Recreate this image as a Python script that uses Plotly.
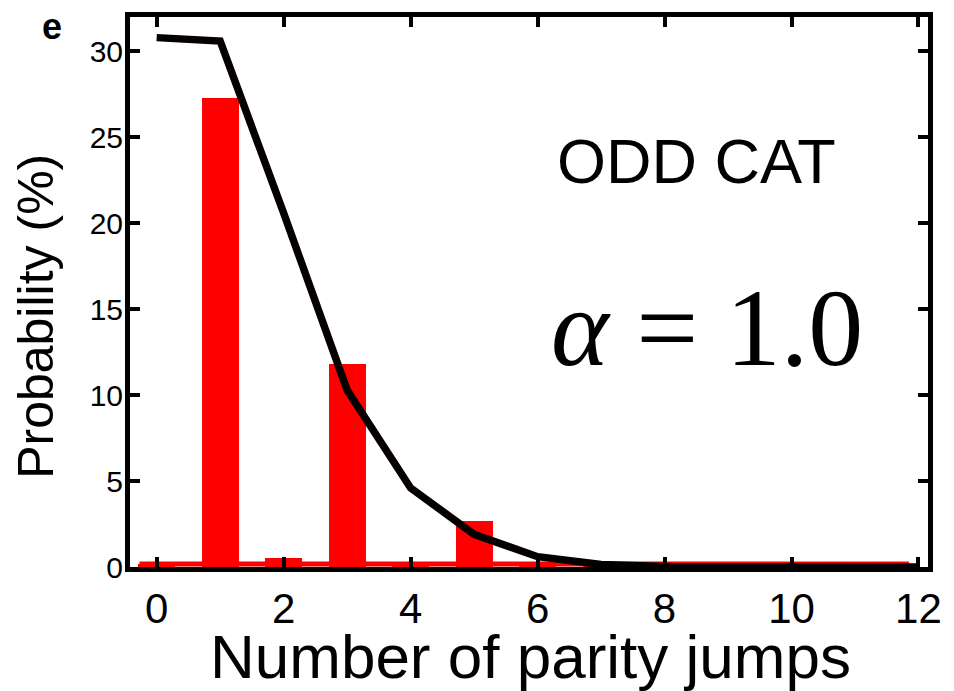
import plotly.graph_objects as go

# Number of parity jumps observed for the odd cat state
jumps = [0, 1, 2, 3, 4, 5, 6, 7, 8, 9, 10, 11, 12]
measured = [0.2, 27.3, 0.55, 11.8, 0.2, 2.7, 0.2, 0.1, 0.05, 0.0, 0.1, 0.1, 0.0]
theory = [30.8, 30.6, 20.6, 10.3, 4.6, 1.9, 0.6, 0.15, 0.03, 0.0, 0.0, 0.0, 0.0]

# red base line under the histogram
base_x = [-0.27, 11.85]
base_y = [0.17, 0.17]

x_ticks = [0, 2, 4, 6, 8, 10, 12]
y_ticks = [0, 5, 10, 15, 20, 25, 30]

FONT = "Liberation Sans, Arial, sans-serif"

fig = go.Figure()
fig.add_trace(go.Bar(x=jumps, y=measured, width=0.58,
                     marker=dict(color="#ff0000", line=dict(width=0))))
fig.add_trace(go.Scatter(x=base_x, y=base_y, mode="lines",
                         line=dict(color="#ff0000", width=5)))
fig.add_trace(go.Scatter(x=jumps, y=theory, mode="lines",
                         line=dict(color="#050000", width=7.5)))

fig.update_layout(
    width=954, height=691,
    margin=dict(l=130, r=18, t=15, b=124),
    paper_bgcolor="white", plot_bgcolor="white",
    showlegend=False, bargap=0,
    font=dict(family=FONT, color="black"),
    xaxis=dict(range=[-0.42, 12.15], tickvals=x_ticks,
               ticktext=[str(v) for v in x_ticks],
               ticks="inside", ticklen=10, tickwidth=4, tickcolor="black",
               showline=True, linewidth=5, linecolor="black", mirror="ticks",
               showgrid=False, zeroline=False,
               tickfont=dict(size=42, family=FONT, color="black"),
               ticklabelstandoff=1),
    yaxis=dict(range=[0, 32], tickvals=y_ticks,
               ticktext=[str(v) for v in y_ticks],
               ticks="inside", ticklen=10, tickwidth=4, tickcolor="black",
               showline=True, linewidth=5, linecolor="black", mirror="ticks",
               showgrid=False, zeroline=False,
               tickfont=dict(size=30, family=FONT, color="black"),
               ticklabelstandoff=-4),
)

annotations = [
    dict(text="Number of parity jumps", x=535, y=657,
         font=dict(size=62, family=FONT, color="black")),
    dict(text="Probability (%)", x=35, y=315, textangle=-90,
         font=dict(size=50, family=FONT, color="black")),
    dict(text="<b>e</b>", x=51, y=25,
         font=dict(size=36, family=FONT, color="black")),
    dict(text="ODD CAT", x=702, y=160,
         font=dict(size=63, family=FONT, color="black")),
    dict(text="<i>α</i> = 1.0", x=713, y=327,
         font=dict(size=110, family="Liberation Serif, Times New Roman, serif",
                   color="black")),
]
for a in annotations:
    px, py = a.pop("x"), a.pop("y")
    fig.add_annotation(xref="paper", yref="paper",
                       x=(px - 130) / (954 - 130 - 18),
                       y=1 - (py - 15) / (691 - 15 - 124),
                       xanchor="center", yanchor="middle", showarrow=False,
                       **a)

fig.write_html("out.html")
